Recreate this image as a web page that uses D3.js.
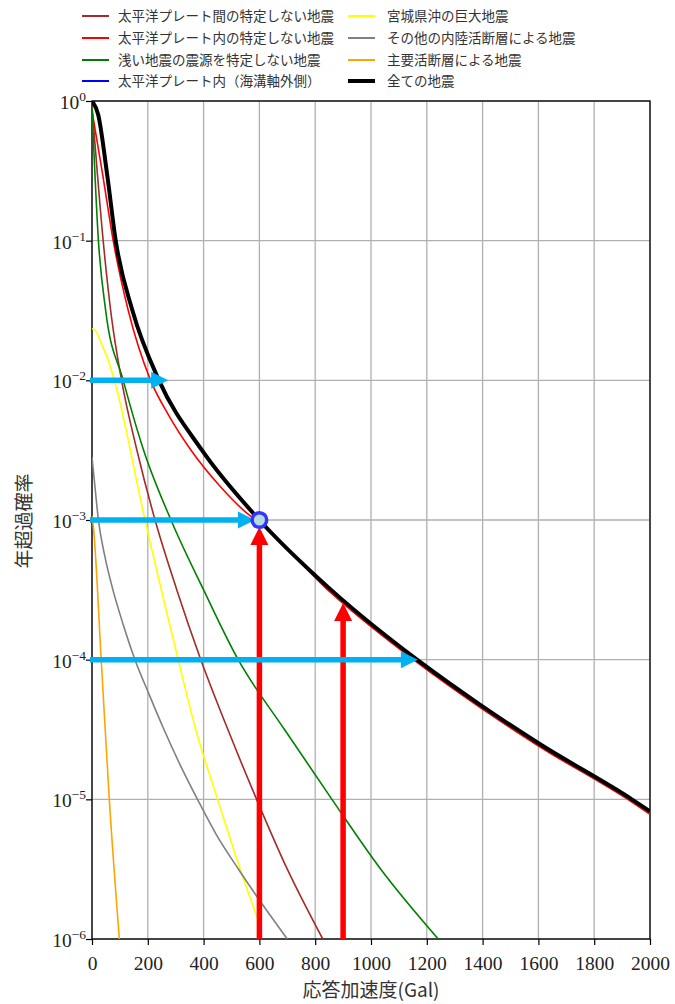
<!DOCTYPE html>
<html><head><meta charset="utf-8">
<script src="https://cdn.jsdelivr.net/npm/d3@7"></script>
<style>body{margin:0;background:#fff}svg{display:block}</style>
</head><body><svg id="chart" width="675" height="1004"></svg>
<script>
// ---- data ----
const galTicks = [0,200,400,600,800,1000,1200,1400,1600,1800,2000];
const probTicks = [1,1e-1,1e-2,1e-3,1e-4,1e-5,1e-6];
const probTickExp = ["0","\u22121","\u22122","\u22123","\u22124","\u22125","\u22126"];

const seriesNames = ["太平洋プレート間の特定しない地震","太平洋プレート内の特定しない地震","浅い地震の震源を特定しない地震","太平洋プレート内（海溝軸外側）","宮城県沖の巨大地震","その他の内陸活断層による地震","主要活断層による地震","全ての地震"];
const seriesColors = ["#a52a2a","#ff0000","#008000","#0000ff","#ffff00","#808080","#ffa500","#000000"];

const interPlateGal  = [0,40,70,106,161,226,304,390,487,590,700,827];
const interPlateProb = [0.93,0.1,0.0282,0.01,0.00316,0.001,3.16e-4,1e-4,3.16e-5,1e-5,3.16e-6,1e-6];

const intraPlateGal  = [0,38,76,130,210,275,355,455,555,600,857,1165,1389,1602,1935,2000];
const intraPlateProb = [0.85,0.3,0.1,0.0316,0.01,0.00562,0.00316,0.00178,0.00112,9.55e-4,3.0e-4,9.55e-5,4.57e-5,2.4e-5,9.55e-6,7.8e-6];

const shallowGal  = [0,23,49,112,185,283,400,524,690,860,1035,1241];
const shallowProb = [0.89,0.1,0.0316,0.01,0.00316,0.001,3.16e-4,1e-4,3.16e-5,1e-5,3.16e-6,1e-6];

const outerRiseGal  = [];
const outerRiseProb = [];

const miyagiGal  = [0,15,30,55,80,190,309,369,450,543,598];
const miyagiProb = [0.0234,0.0224,0.019,0.0145,0.01,0.001,1e-4,3.31e-5,1e-5,2.69e-6,1.32e-6];

const otherFaultGal  = [0,10,23,45,75,112,154,205,258,315,378,445,525,610,700];
const otherFaultProb = [0.00282,0.00178,0.001,5.62e-4,3.16e-4,1.78e-4,1e-4,5.62e-5,3.16e-5,1.78e-5,1e-5,5.62e-6,3.16e-6,1.78e-6,1e-6];

const mainFaultGal  = [0,5,33,62,98];
const mainFaultProb = [0.00107,8.9e-4,1e-4,1e-5,1e-6];

const allGal  = [0,22,55,85,145,240,394,600,857,1165,1389,1602,1935,2000];
const allProb = [1.0,0.80,0.29,0.1,0.0316,0.01,0.00316,0.001,3.16e-4,1e-4,4.79e-5,2.51e-5,1e-5,8.2e-6];

const blueArrowProb = [1e-2,1e-3,1e-4];
const blueArrowEndGal = [273,584,1168];
const redArrowGal = [600,900];
const redArrowTopProb = [8.9e-4,2.55e-4];
const markerGal = 600, markerProb = 1e-3;

// ---- chart ----
const svg = d3.select("#chart");
const L=92,R=650,T=101,B=939;
const x = d3.scaleLinear().domain([0,2000]).range([L,R]);
const y = d3.scaleLog().domain([1e-6,1]).range([B,T]);

svg.append("defs").append("clipPath").attr("id","clip")
  .append("rect").attr("x",L).attr("y",T).attr("width",R-L).attr("height",B-T);

// grid
const grid = svg.append("g");
grid.selectAll("line.gx").data(galTicks).join("line")
  .attr("x1",d=>x(d)).attr("x2",d=>x(d)).attr("y1",T).attr("y2",B)
  .attr("stroke","#b0b0b0").attr("stroke-width",1.3);
grid.selectAll("line.gy").data(probTicks).join("line")
  .attr("y1",d=>y(d)).attr("y2",d=>y(d)).attr("x1",L).attr("x2",R)
  .attr("stroke","#b0b0b0").attr("stroke-width",1.3);

// axes
const xAxis = d3.axisBottom(x).tickValues(galTicks).tickSize(6).tickPadding(11).tickFormat(d3.format("d"));
const gx = svg.append("g").attr("transform",`translate(0,${B})`).call(xAxis);
gx.select(".domain").remove();
gx.selectAll("line").attr("stroke","#000").attr("stroke-width",1.2);
gx.selectAll("text").attr("font-family","'Liberation Serif','DejaVu Serif',serif").attr("font-size",19.5).attr("fill","#222");

const yAxis = d3.axisLeft(y).tickValues(probTicks).tickSize(6).tickFormat("");
const gy = svg.append("g").attr("transform",`translate(${L},0)`).call(yAxis);
gy.select(".domain").remove();
gy.selectAll("line").attr("stroke","#000").attr("stroke-width",1.2);
const ylab = svg.append("g").selectAll("text").data(probTicks).join("text")
  .attr("x",86).attr("y",d=>y(d)+8)
  .attr("text-anchor","end")
  .attr("font-family","'Liberation Serif','DejaVu Serif',serif")
  .attr("font-size",19.5).attr("fill","#222");
ylab.append("tspan").text("10");
ylab.append("tspan").attr("dy",-8).attr("font-size",13.5).text((d,i)=>probTickExp[i]);

// frame
svg.append("rect").attr("x",L).attr("y",T).attr("width",R-L).attr("height",B-T)
  .attr("fill","none").attr("stroke","#000").attr("stroke-width",1.3);

// series
const allSeries = [
  [interPlateGal,interPlateProb],[intraPlateGal,intraPlateProb],[shallowGal,shallowProb],
  [outerRiseGal,outerRiseProb],[miyagiGal,miyagiProb],[otherFaultGal,otherFaultProb],
  [mainFaultGal,mainFaultProb],[allGal,allProb]
];
const line = d3.line().x(d=>x(d[0])).y(d=>y(d[1])).curve(d3.curveMonotoneX);
const plot = svg.append("g").attr("clip-path","url(#clip)");
allSeries.forEach((s,i)=>{
  const pts = s[0].map((g,k)=>[g,s[1][k]]);
  if(!pts.length) return;
  plot.append("path").attr("d",line(pts)).attr("fill","none")
    .attr("stroke",seriesColors[i]).attr("stroke-width",i===7?4:1.6)
    .attr("stroke-linejoin","round");
});

// red arrows
const ann = svg.append("g");
const rHead=18, rHalf=9;
redArrowGal.forEach((g,i)=>{
  const tx=x(g), ty=y(redArrowTopProb[i]);
  ann.append("line").attr("x1",tx).attr("x2",tx).attr("y1",y(1e-6)).attr("y2",ty+rHead-1)
    .attr("stroke","#ff0000").attr("stroke-width",5.5);
  ann.append("path").attr("d",`M${tx},${ty}L${tx-rHalf},${ty+rHead}L${tx+rHalf},${ty+rHead}Z`).attr("fill","#ff0000");
});
// blue arrows
const bHead=17, bHalf=8.5;
blueArrowProb.forEach((p,i)=>{
  const ty=y(p), tx=x(blueArrowEndGal[i]);
  ann.append("line").attr("x1",x(0)-2).attr("x2",tx-bHead+1).attr("y1",ty).attr("y2",ty)
    .attr("stroke","#00b0f0").attr("stroke-width",5.5);
  ann.append("path").attr("d",`M${tx},${ty}L${tx-bHead},${ty-bHalf}L${tx-bHead},${ty+bHalf}Z`).attr("fill","#00b0f0");
});
// marker
ann.append("circle").attr("cx",x(markerGal)).attr("cy",y(markerProb)).attr("r",7.3)
  .attr("fill","#b4dcde").attr("stroke","#3535ff").attr("stroke-width",3.5);

// legend
const legend = svg.append("g");
const legCols=[{lx:82,tx:118},{lx:348,tx:387}];
const legRows=[16,38,60,81];
seriesNames.forEach((n,i)=>{
  const c=legCols[Math.floor(i/4)], ry=legRows[i%4];
  legend.append("line").attr("x1",c.lx).attr("x2",c.lx+27).attr("y1",ry).attr("y2",ry)
    .attr("stroke",seriesColors[i]).attr("stroke-width",i===7?4:2);
  legend.append("text").attr("x",c.tx).attr("y",ry+5).text(n)
    .attr("font-family","'Noto Sans CJK JP','Noto Sans',sans-serif").attr("font-size",13.5).attr("fill","#333");
});

// axis labels
svg.append("text").attr("x",(L+R)/2).attr("y",997).attr("text-anchor","middle")
  .attr("font-family","'Noto Sans CJK JP',sans-serif").attr("font-size",19).attr("fill","#333")
  .text("応答加速度(Gal)");
svg.append("text").attr("transform",`translate(31,${(T+B)/2+1}) rotate(-90)`).attr("text-anchor","middle")
  .attr("font-family","'Noto Sans CJK JP',sans-serif").attr("font-size",19).attr("fill","#333")
  .text("年超過確率");
</script></body></html>
